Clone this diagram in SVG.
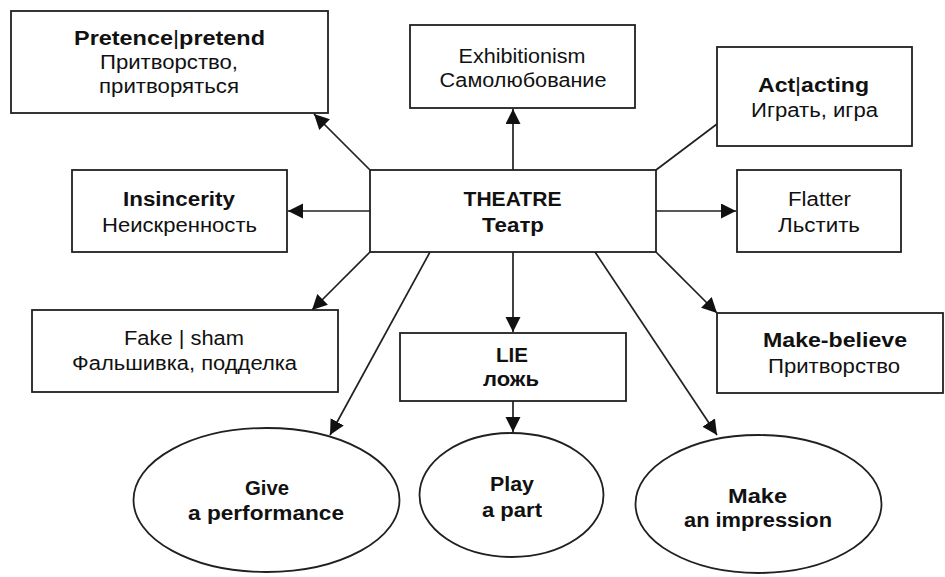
<svg xmlns="http://www.w3.org/2000/svg" width="945" height="577" viewBox="0 0 945 577">
<defs>
<style>
.box{fill:#fff;stroke:#231f20;stroke-width:1.8}
.t{font-family:"Liberation Sans",Arial,sans-serif;font-size:20px;fill:#111;text-anchor:middle}
.b{font-weight:bold}
.c{fill:none;stroke:#231f20;stroke-width:1.7}
</style>
<marker id="ah" markerUnits="userSpaceOnUse" markerWidth="17" markerHeight="16" refX="15" refY="7.5" orient="auto">
<path d="M0,0 L15,7.5 L0,15 z" fill="#111"/>
</marker>
</defs>
<rect width="945" height="577" fill="#fff"/>
<g id="connectors">
<line class="c" x1="370" y1="170" x2="314" y2="114" marker-end="url(#ah)"/>
<line class="c" x1="513" y1="170" x2="513" y2="109" marker-end="url(#ah)"/>
<line class="c" x1="656" y1="170" x2="717" y2="124"/>
<line class="c" x1="370" y1="211" x2="288" y2="211" marker-end="url(#ah)"/>
<line class="c" x1="656" y1="211" x2="736" y2="211" marker-end="url(#ah)"/>
<line class="c" x1="370" y1="252" x2="312" y2="310" marker-end="url(#ah)"/>
<line class="c" x1="430" y1="252" x2="330" y2="435" marker-end="url(#ah)"/>
<line class="c" x1="513" y1="252" x2="513" y2="332" marker-end="url(#ah)"/>
<line class="c" x1="513" y1="401" x2="513" y2="432" marker-end="url(#ah)"/>
<line class="c" x1="595" y1="252" x2="717" y2="435" marker-end="url(#ah)"/>
<line class="c" x1="656" y1="252" x2="717" y2="313" marker-end="url(#ah)"/>
</g>
<g id="pretence">
<rect class="box" x="11" y="11" width="317" height="102"/>
<text class="t b" x="169.5" y="45" textLength="191" lengthAdjust="spacingAndGlyphs">Pretence<tspan font-weight="normal">|</tspan>pretend</text>
<text class="t" x="169" y="69" textLength="138" lengthAdjust="spacingAndGlyphs">Притворство,</text>
<text class="t" x="169" y="93" textLength="140" lengthAdjust="spacingAndGlyphs">притворяться</text>
</g>
<g id="exhibitionism">
<rect class="box" x="410" y="25" width="225" height="83"/>
<text class="t" x="522" y="63" textLength="127" lengthAdjust="spacingAndGlyphs">Exhibitionism</text>
<text class="t" x="523" y="87" textLength="167" lengthAdjust="spacingAndGlyphs">Самолюбование</text>
</g>
<g id="act">
<rect class="box" x="717" y="47" width="195" height="99"/>
<text class="t b" x="813.5" y="92" textLength="111" lengthAdjust="spacingAndGlyphs">Act<tspan font-weight="normal">|</tspan>acting</text>
<text class="t" x="814.5" y="117" textLength="127" lengthAdjust="spacingAndGlyphs">Играть, игра</text>
</g>
<g id="insincerity">
<rect class="box" x="72" y="170" width="215" height="82"/>
<text class="t b" x="179" y="206" textLength="112" lengthAdjust="spacingAndGlyphs">Insincerity</text>
<text class="t" x="179.5" y="232" textLength="155" lengthAdjust="spacingAndGlyphs">Неискренность</text>
</g>
<g id="theatre">
<rect class="box" x="370" y="170" width="286" height="82"/>
<text class="t b" x="512.5" y="206" textLength="98" lengthAdjust="spacingAndGlyphs">THEATRE</text>
<text class="t b" x="513" y="232" textLength="62" lengthAdjust="spacingAndGlyphs">Театр</text>
</g>
<g id="flatter">
<rect class="box" x="737" y="170" width="164" height="82"/>
<text class="t" x="819.5" y="206" textLength="63" lengthAdjust="spacingAndGlyphs">Flatter</text>
<text class="t" x="819" y="232" textLength="82" lengthAdjust="spacingAndGlyphs">Льстить</text>
</g>
<g id="fake">
<rect class="box" x="32" y="310" width="306" height="82"/>
<text class="t" x="184" y="345" textLength="120" lengthAdjust="spacingAndGlyphs">Fake | sham</text>
<text class="t" x="184.5" y="370" textLength="225" lengthAdjust="spacingAndGlyphs">Фальшивка, подделка</text>
</g>
<g id="lie">
<rect class="box" x="400" y="333" width="226" height="68"/>
<text class="t b" x="512" y="362" textLength="32" lengthAdjust="spacingAndGlyphs">LIE</text>
<text class="t b" x="511" y="386" textLength="56" lengthAdjust="spacingAndGlyphs">ложь</text>
</g>
<g id="makebelieve">
<rect class="box" x="717" y="313" width="226" height="80"/>
<text class="t b" x="835" y="347" textLength="144" lengthAdjust="spacingAndGlyphs">Make-believe</text>
<text class="t" x="834" y="373" textLength="132" lengthAdjust="spacingAndGlyphs">Притворство</text>
</g>
<g id="give">
<ellipse class="box" cx="266.5" cy="500" rx="133" ry="72"/>
<text class="t b" x="267" y="495" textLength="44" lengthAdjust="spacingAndGlyphs">Give</text>
<text class="t b" x="266" y="520" textLength="156" lengthAdjust="spacingAndGlyphs">a performance</text>
</g>
<g id="play">
<ellipse class="box" cx="511.5" cy="495" rx="92" ry="62"/>
<text class="t b" x="512" y="491" textLength="44" lengthAdjust="spacingAndGlyphs">Play</text>
<text class="t b" x="512" y="517" textLength="60" lengthAdjust="spacingAndGlyphs">a part</text>
</g>
<g id="impression">
<ellipse class="box" cx="758.5" cy="504" rx="123" ry="69"/>
<text class="t b" x="757.5" y="503" textLength="59" lengthAdjust="spacingAndGlyphs">Make</text>
<text class="t b" x="758" y="527" textLength="148" lengthAdjust="spacingAndGlyphs">an impression</text>
</g>
</svg>
